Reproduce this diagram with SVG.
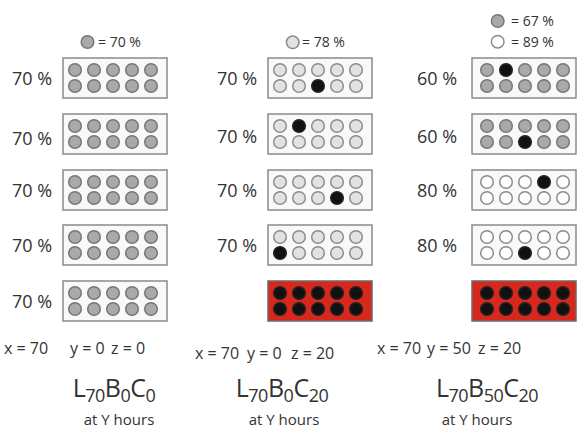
<svg xmlns="http://www.w3.org/2000/svg" width="578" height="431" viewBox="0 0 578 431">
<defs>
<style>
.box{fill:#f9f9f9;stroke:#8a8a8a;stroke-width:1.5}
.red{fill:#d8281e;stroke:#6a6a6a;stroke-width:1.5}
.g{fill:#a9a9a9;stroke:#777;stroke-width:1.5}
.l{fill:#e2e2e2;stroke:#8c8c8c;stroke-width:1.5}
.w{fill:#fff;stroke:#8c8c8c;stroke-width:1.5}
.k{fill:#111;stroke:#222;stroke-width:1.5}
text{font-family:"Open Sans","Liberation Sans",sans-serif;fill:#333}
.lab{font-size:18px}
.leg{font-size:14px}
.eq{font-size:16px}
.ttl{font-size:25px;text-anchor:middle}
.sub{font-size:18px}
.hrs{font-size:15px;text-anchor:middle}
</style>
<circle id="cg" r="6.3" class="g"/>
<circle id="cl" r="6.3" class="l"/>
<circle id="cw" r="6.3" class="w"/>
<circle id="ck" r="6.3" class="k"/>
</defs>
<rect width="578" height="431" fill="#fff"/>

<!-- Legends -->
<g id="legend1"><use href="#cg" x="87.5" y="42"/><text class="leg" x="98" y="47">= 70 %</text></g>
<g id="legend2"><use href="#cl" x="292.7" y="42.3"/><text class="leg" x="302" y="47.3">= 78 %</text></g>
<g id="legend3"><use href="#cg" x="497.7" y="21"/><text class="leg" x="511" y="26">= 67 %</text>
<use href="#cw" x="497.7" y="41.7"/><text class="leg" x="511" y="46.7">= 89 %</text></g>

<!-- Column 1 -->
<g id="c1r1"><text class="lab" x="12" y="85">70 %</text><rect class="box" x="63" y="58" width="104" height="40"/>
<use href="#cg" x="75" y="70"/><use href="#cg" x="94" y="70"/><use href="#cg" x="113" y="70"/><use href="#cg" x="132" y="70"/><use href="#cg" x="151" y="70"/>
<use href="#cg" x="75" y="86"/><use href="#cg" x="94" y="86"/><use href="#cg" x="113" y="86"/><use href="#cg" x="132" y="86"/><use href="#cg" x="151" y="86"/></g>
<g id="c1r2"><text class="lab" x="12" y="145">70 %</text><rect class="box" x="63" y="114" width="104" height="40"/>
<use href="#cg" x="75" y="126"/><use href="#cg" x="94" y="126"/><use href="#cg" x="113" y="126"/><use href="#cg" x="132" y="126"/><use href="#cg" x="151" y="126"/>
<use href="#cg" x="75" y="142"/><use href="#cg" x="94" y="142"/><use href="#cg" x="113" y="142"/><use href="#cg" x="132" y="142"/><use href="#cg" x="151" y="142"/></g>
<g id="c1r3"><text class="lab" x="12" y="197">70 %</text><rect class="box" x="63" y="170" width="104" height="40"/>
<use href="#cg" x="75" y="182"/><use href="#cg" x="94" y="182"/><use href="#cg" x="113" y="182"/><use href="#cg" x="132" y="182"/><use href="#cg" x="151" y="182"/>
<use href="#cg" x="75" y="198"/><use href="#cg" x="94" y="198"/><use href="#cg" x="113" y="198"/><use href="#cg" x="132" y="198"/><use href="#cg" x="151" y="198"/></g>
<g id="c1r4"><text class="lab" x="12" y="252">70 %</text><rect class="box" x="63" y="225" width="104" height="40"/>
<use href="#cg" x="75" y="237"/><use href="#cg" x="94" y="237"/><use href="#cg" x="113" y="237"/><use href="#cg" x="132" y="237"/><use href="#cg" x="151" y="237"/>
<use href="#cg" x="75" y="253"/><use href="#cg" x="94" y="253"/><use href="#cg" x="113" y="253"/><use href="#cg" x="132" y="253"/><use href="#cg" x="151" y="253"/></g>
<g id="c1r5"><text class="lab" x="12" y="308">70 %</text><rect class="box" x="63" y="281" width="104" height="40"/>
<use href="#cg" x="75" y="293"/><use href="#cg" x="94" y="293"/><use href="#cg" x="113" y="293"/><use href="#cg" x="132" y="293"/><use href="#cg" x="151" y="293"/>
<use href="#cg" x="75" y="309"/><use href="#cg" x="94" y="309"/><use href="#cg" x="113" y="309"/><use href="#cg" x="132" y="309"/><use href="#cg" x="151" y="309"/></g>

<!-- Column 2 -->
<g id="c2r1"><text class="lab" x="217" y="85">70 %</text><rect class="box" x="268" y="58" width="104" height="40"/>
<use href="#cl" x="280" y="70"/><use href="#cl" x="299" y="70"/><use href="#cl" x="318" y="70"/><use href="#cl" x="337" y="70"/><use href="#cl" x="356" y="70"/>
<use href="#cl" x="280" y="86"/><use href="#cl" x="299" y="86"/><use href="#ck" x="318" y="86"/><use href="#cl" x="337" y="86"/><use href="#cl" x="356" y="86"/></g>
<g id="c2r2"><text class="lab" x="217" y="143">70 %</text><rect class="box" x="268" y="114" width="104" height="40"/>
<use href="#cl" x="280" y="126"/><use href="#ck" x="299" y="126"/><use href="#cl" x="318" y="126"/><use href="#cl" x="337" y="126"/><use href="#cl" x="356" y="126"/>
<use href="#cl" x="280" y="142"/><use href="#cl" x="299" y="142"/><use href="#cl" x="318" y="142"/><use href="#cl" x="337" y="142"/><use href="#cl" x="356" y="142"/></g>
<g id="c2r3"><text class="lab" x="217" y="197">70 %</text><rect class="box" x="268" y="170" width="104" height="40"/>
<use href="#cl" x="280" y="182"/><use href="#cl" x="299" y="182"/><use href="#cl" x="318" y="182"/><use href="#cl" x="337" y="182"/><use href="#cl" x="356" y="182"/>
<use href="#cl" x="280" y="198"/><use href="#cl" x="299" y="198"/><use href="#cl" x="318" y="198"/><use href="#ck" x="337" y="198"/><use href="#cl" x="356" y="198"/></g>
<g id="c2r4"><text class="lab" x="217" y="252">70 %</text><rect class="box" x="268" y="225" width="104" height="40"/>
<use href="#cl" x="280" y="237"/><use href="#cl" x="299" y="237"/><use href="#cl" x="318" y="237"/><use href="#cl" x="337" y="237"/><use href="#cl" x="356" y="237"/>
<use href="#ck" x="280" y="253"/><use href="#cl" x="299" y="253"/><use href="#cl" x="318" y="253"/><use href="#cl" x="337" y="253"/><use href="#cl" x="356" y="253"/></g>
<g id="c2r5"><rect class="red" x="268" y="281" width="104" height="40"/>
<use href="#ck" x="280" y="293"/><use href="#ck" x="299" y="293"/><use href="#ck" x="318" y="293"/><use href="#ck" x="337" y="293"/><use href="#ck" x="356" y="293"/>
<use href="#ck" x="280" y="309"/><use href="#ck" x="299" y="309"/><use href="#ck" x="318" y="309"/><use href="#ck" x="337" y="309"/><use href="#ck" x="356" y="309"/></g>

<!-- Column 3 -->
<g id="c3r1"><text class="lab" x="417" y="85">60 %</text><rect class="box" x="472" y="58" width="104" height="40"/>
<use href="#cg" x="487" y="70"/><use href="#ck" x="506" y="70"/><use href="#cg" x="525" y="70"/><use href="#cg" x="544" y="70"/><use href="#cg" x="563" y="70"/>
<use href="#cg" x="487" y="86"/><use href="#cg" x="506" y="86"/><use href="#cg" x="525" y="86"/><use href="#cg" x="544" y="86"/><use href="#cg" x="563" y="86"/></g>
<g id="c3r2"><text class="lab" x="417" y="143">60 %</text><rect class="box" x="472" y="114" width="104" height="40"/>
<use href="#cg" x="487" y="126"/><use href="#cg" x="506" y="126"/><use href="#cg" x="525" y="126"/><use href="#cg" x="544" y="126"/><use href="#cg" x="563" y="126"/>
<use href="#cg" x="487" y="142"/><use href="#cg" x="506" y="142"/><use href="#ck" x="525" y="142"/><use href="#cg" x="544" y="142"/><use href="#cg" x="563" y="142"/></g>
<g id="c3r3"><text class="lab" x="417" y="197">80 %</text><rect class="box" x="472" y="170" width="104" height="40"/>
<use href="#cw" x="487" y="182"/><use href="#cw" x="506" y="182"/><use href="#cw" x="525" y="182"/><use href="#ck" x="544" y="182"/><use href="#cw" x="563" y="182"/>
<use href="#cw" x="487" y="198"/><use href="#cw" x="506" y="198"/><use href="#cw" x="525" y="198"/><use href="#cw" x="544" y="198"/><use href="#cw" x="563" y="198"/></g>
<g id="c3r4"><text class="lab" x="417" y="252">80 %</text><rect class="box" x="472" y="225" width="104" height="40"/>
<use href="#cw" x="487" y="237"/><use href="#cw" x="506" y="237"/><use href="#cw" x="525" y="237"/><use href="#cw" x="544" y="237"/><use href="#cw" x="563" y="237"/>
<use href="#cw" x="487" y="253"/><use href="#cw" x="506" y="253"/><use href="#ck" x="525" y="253"/><use href="#cw" x="544" y="253"/><use href="#cw" x="563" y="253"/></g>
<g id="c3r5"><rect class="red" x="472" y="281" width="104" height="40"/>
<use href="#ck" x="487" y="293"/><use href="#ck" x="506" y="293"/><use href="#ck" x="525" y="293"/><use href="#ck" x="544" y="293"/><use href="#ck" x="563" y="293"/>
<use href="#ck" x="487" y="309"/><use href="#ck" x="506" y="309"/><use href="#ck" x="525" y="309"/><use href="#ck" x="544" y="309"/><use href="#ck" x="563" y="309"/></g>

<!-- Parameters -->
<g id="params1"><text class="eq" y="354"><tspan x="4">x = 70</tspan><tspan x="70">y = 0</tspan><tspan x="111">z = 0</tspan></text></g>
<g id="params2"><text class="eq" y="359"><tspan x="195">x = 70</tspan><tspan x="247">y = 0</tspan><tspan x="291">z = 20</tspan></text></g>
<g id="params3"><text class="eq" y="354"><tspan x="377">x = 70</tspan><tspan x="427">y = 50</tspan><tspan x="478">z = 20</tspan></text></g>

<!-- Titles -->
<g id="title1"><text class="ttl" x="114" y="397" letter-spacing="-0.5">L<tspan class="sub" dy="5">70</tspan><tspan dy="-5">B</tspan><tspan class="sub" dy="5">0</tspan><tspan dy="-5">C</tspan><tspan class="sub" dy="5">0</tspan></text>
<text class="hrs" x="119" y="425">at Y hours</text></g>
<g id="title2"><text class="ttl" x="282" y="397" letter-spacing="-0.5">L<tspan class="sub" dy="5">70</tspan><tspan dy="-5">B</tspan><tspan class="sub" dy="5">0</tspan><tspan dy="-5">C</tspan><tspan class="sub" dy="5">20</tspan></text>
<text class="hrs" x="284" y="425">at Y hours</text></g>
<g id="title3"><text class="ttl" x="487" y="397" letter-spacing="-0.5">L<tspan class="sub" dy="5">70</tspan><tspan dy="-5">B</tspan><tspan class="sub" dy="5">50</tspan><tspan dy="-5">C</tspan><tspan class="sub" dy="5">20</tspan></text>
<text class="hrs" x="477" y="425">at Y hours</text></g>
</svg>
